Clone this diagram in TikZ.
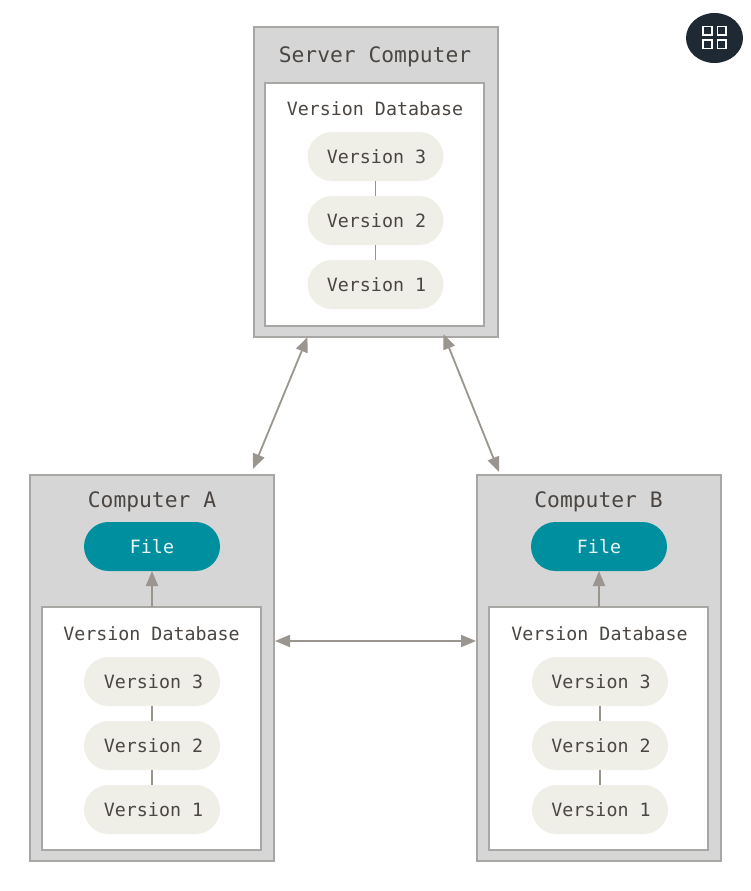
\documentclass[tikz,border=0pt]{standalone}
\usepackage{fontspec}
\setmainfont{DejaVu Sans Mono}
\usetikzlibrary{arrows.meta,shapes.geometric}
\definecolor{boxfill}{HTML}{D6D6D6}
\definecolor{boxline}{HTML}{A9A7A3}
\definecolor{inkc}{HTML}{4B4642}
\definecolor{pillc}{HTML}{EFEFE8}
\definecolor{tealc}{HTML}{008F9F}
\definecolor{arrowc}{HTML}{9A958E}
\definecolor{badgec}{HTML}{1F2933}
\tikzset{
  x=1pt,y=-1pt,
  outerbox/.style={draw=boxline,line width=2pt,fill=boxfill,inner sep=0pt,outer sep=0pt},
  innerbox/.style={draw=boxline,line width=2pt,fill=white,inner sep=0pt,outer sep=0pt,minimum width=219pt,minimum height=243pt},
  pill/.style={rounded corners=24.5pt,inner sep=0pt,outer sep=0pt,minimum width=136pt,minimum height=49pt,text height=13pt,text depth=0pt,font=\fontsize{18.3}{20}\selectfont},
  verpill/.style={pill,fill=pillc,text=inkc},
  filepill/.style={pill,fill=tealc,text=white!92!tealc},
  bigtitle/.style={anchor=base,text=inkc,inner sep=0pt,font=\fontsize{21.3}{24}\selectfont},
  dbtitle/.style={anchor=base,text=inkc,inner sep=0pt,font=\fontsize{18.3}{20}\selectfont},
  link/.style={draw=arrowc,line width=1.2pt},
  twoway/.style={draw=arrowc,line width=1.8pt,{Triangle[length=15pt,width=12pt]}-{Triangle[length=15pt,width=12pt]}},
  oneway/.style={draw=arrowc,line width=2pt,-{Triangle[length=15pt,width=12pt]}},
  gridcell/.style={draw=white,line width=1.5pt},
}
\newcommand{\verstack}[4]{%
  \node[verpill] (#1v3) at (#2,#3+24.5) {\kern#4pt Version 3};
  \node[verpill] (#1v2) at (#2,#3+88.5) {\kern#4pt Version 2};
  \node[verpill] (#1v1) at (#2,#3+152.5) {\kern#4pt Version 1};
  \draw[link] (#1v3.south) -- (#1v2.north);
  \draw[link] (#1v2.south) -- (#1v1.north);
}
\begin{document}
\begin{tikzpicture}
\useasboundingbox (0,0) rectangle (750,891);
\fill[white] (0,0) rectangle (750,891);

% server
\node[outerbox,minimum width=244pt,minimum height=310pt] (server) at (375.5,182) {};
\node[innerbox] (serverdb) at (374.5,204.5) {};
\node[bigtitle] (servertitle) at (375,62.5) {Server Computer};
\node[dbtitle] (serverdbtitle) at (375,115.5) {Version Database};
\verstack{s}{375.5}{132}{2}

% computer A
\node[outerbox,minimum width=244pt,minimum height=386pt] (compa) at (152,668) {};
\node[innerbox] (adb) at (151.5,728.5) {};
\node[bigtitle] (atitle) at (152,507) {Computer A};
\node[filepill] (afile) at (152,546.5) {File};
\node[dbtitle] (adbtitle) at (151.5,640.5) {Version Database};
\verstack{a}{152}{657}{3}
\draw[oneway] (afile.south |- adb.north) -- (afile.south);

% computer B
\node[outerbox,minimum width=244pt,minimum height=386pt] (compb) at (599,668) {};
\node[innerbox] (bdb) at (598.5,728.5) {};
\node[bigtitle] (btitle) at (598.5,507) {Computer B};
\node[filepill] (bfile) at (599,546.5) {File};
\node[dbtitle] (bdbtitle) at (599.5,640.5) {Version Database};
\verstack{b}{600}{657}{2}
\draw[oneway] (bfile.south |- bdb.north) -- (bfile.south);

% links between computers
\draw[twoway] ([xshift=54pt]server.south west) -- ([shift={(-21pt,6pt)}]compa.north east);
\draw[twoway] ([shift={(-54pt,3pt)}]server.south east) -- ([shift={(22pt,3pt)}]compb.north west);
\draw[twoway] ([xshift=1pt,yshift=27pt]compa.east) -- ([xshift=-1pt,yshift=27pt]compb.west);

% badge
\node[ellipse,fill=badgec,inner sep=0pt,minimum width=57pt,minimum height=50pt] (badge) at (714.5,38) {};
\draw[gridcell] (703,26.5) rectangle (712,35.2);
\draw[gridcell] (717.5,26.5) rectangle (726,35.2);
\draw[gridcell] (703,40) rectangle (712,48.7);
\draw[gridcell] (717.5,40) rectangle (726,48.7);
\end{tikzpicture}
\end{document}
